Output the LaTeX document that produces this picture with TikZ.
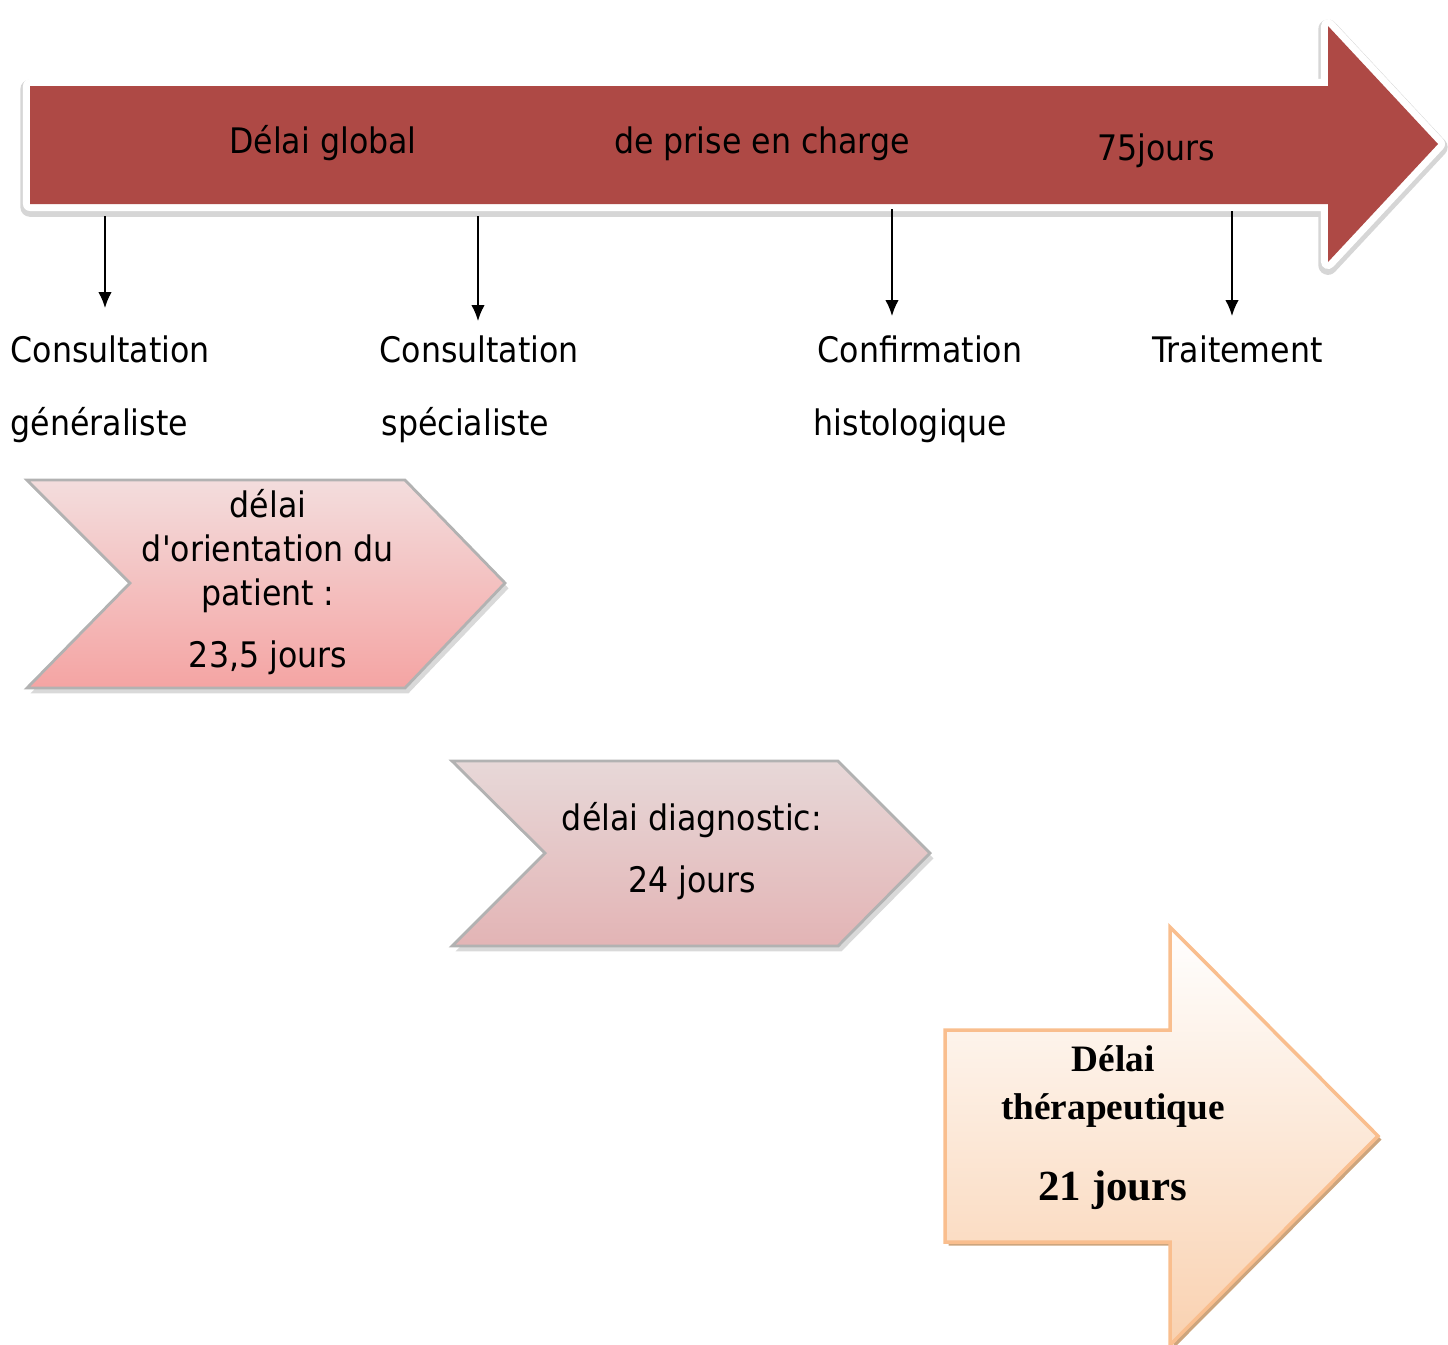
\documentclass[tikz,border=0pt]{standalone}
\usepackage{fontspec}
\setmainfont{DejaVu Sans Condensed}[Ligatures=TeXOff]
\newfontfamily\thfont{Liberation Serif}
\usetikzlibrary{shadows, arrows.meta}

\definecolor{bannerred}{RGB}{174,73,69}
\definecolor{orienttop}{RGB}{243,221,221}
\definecolor{orientbot}{RGB}{244,164,163}
\definecolor{diagtop}{RGB}{231,216,216}
\definecolor{diagbot}{RGB}{227,180,181}
\definecolor{theraline}{RGB}{249,190,142}
\definecolor{therabot}{RGB}{249,209,176}
\definecolor{therashade}{RGB}{205,165,125}

\tikzset{
	bannerwhite/.style={draw=white, line width=4pt, line join=round},
	bannershade/.style={draw=black!16, line width=5.5pt, line join=round},
	chevron/.style={draw=black!30, line width=0.8pt, drop shadow={shadow xshift=1pt, shadow yshift=-1.5pt, opacity=0.3}},
	bannertext/.style={anchor=base, inner sep=0pt, font=\fontsize{10}{12}\selectfont},
	eventtext/.style={anchor=base west, inner sep=0pt, font=\fontsize{10}{12}\selectfont},
	steptext/.style={anchor=base, align=center, inner sep=0pt, font=\fontsize{10}{12.6}\selectfont},
	thtext/.style={anchor=base, inner sep=0pt, font=\thfont\bfseries\fontsize{10.6}{13}\selectfont},
}

\begin{document}
\begin{tikzpicture}[x=0.01cm, y=-0.01cm]
		\useasboundingbox (0,0) rectangle (1448,1344);
		\def\bannerpath{(30,86) -- (1328,86) -- (1328,26) -- (1438,144) -- (1328,262) -- (1328,204) -- (30,204) -- cycle}
		% global delay banner
		\draw[bannershade, transform canvas={yshift=-0.9pt}] \bannerpath;
		\draw[bannerwhite] \bannerpath;
		\fill[bannerred] \bannerpath;
		\node[bannertext] (global) at (323,153) {Délai global};
		\node[bannertext] (prise) at (762,153) {de prise en charge};
		\node[bannertext] (total) at (1156,160) {75jours};
		% events on the time line
		\foreach \name/\x/\y/\top/\bot/\ax/\ay/\az in {gen/10/10/Consultation/généraliste/105/216/308, spe/379/381/Consultation/spécialiste/478/216/321, histo/817/813/Confirmation/histologique/892/209/316, trait/1152/1152/Traitement//1232/211/316}
		{
			\node[eventtext] (\name top) at (\x,362) {\top};
			\node[eventtext] (\name bot) at (\y,435) {\bot};
			\coordinate (\name from) at (\ax,\ay);
			\coordinate (\name to) at (\ax,\az);
			\draw[-{Latex[length=4.5pt, width=3.8pt]}, line width=0.5pt] (\name from) -- (\name to);
		}
		% orientation delay
		\path[chevron, top color=orienttop, bottom color=orientbot] (27,480) -- (405,480) -- (505,583) -- (405,688) -- (27,688) -- (130,583) -- cycle;
		\node[steptext] (orient) at (268,667) {délai\\d'orientation du\\patient :\\[4.8pt]23,5 jours};
		% diagnostic delay
		\path[chevron, top color=diagtop, bottom color=diagbot] (452,761) -- (838,761) -- (930,853) -- (838,946) -- (452,946) -- (545,853) -- cycle;
		\node[steptext] (diag) at (692,892) {délai diagnostic:\\[4.8pt]24 jours};
		% therapeutic delay
		\path[draw=theraline, line width=1pt, top color=white, bottom color=therabot, drop shadow={shadow xshift=1pt, shadow yshift=-1pt, fill=therashade, opacity=1}] (945,1030) -- (1170,1030) -- (1170,927) -- (1378,1136) -- (1170,1345) -- (1170,1242) -- (945,1242) -- cycle;
		\node[thtext] (thera) at (1113,1071) {Délai};
		\node[thtext] (therb) at (1113,1119) {thérapeutique};
		\node[thtext, font=\thfont\bfseries\fontsize{12.2}{14}\selectfont] (thdays) at (1113,1200) {21 jours};
	\end{tikzpicture}
\end{document}
